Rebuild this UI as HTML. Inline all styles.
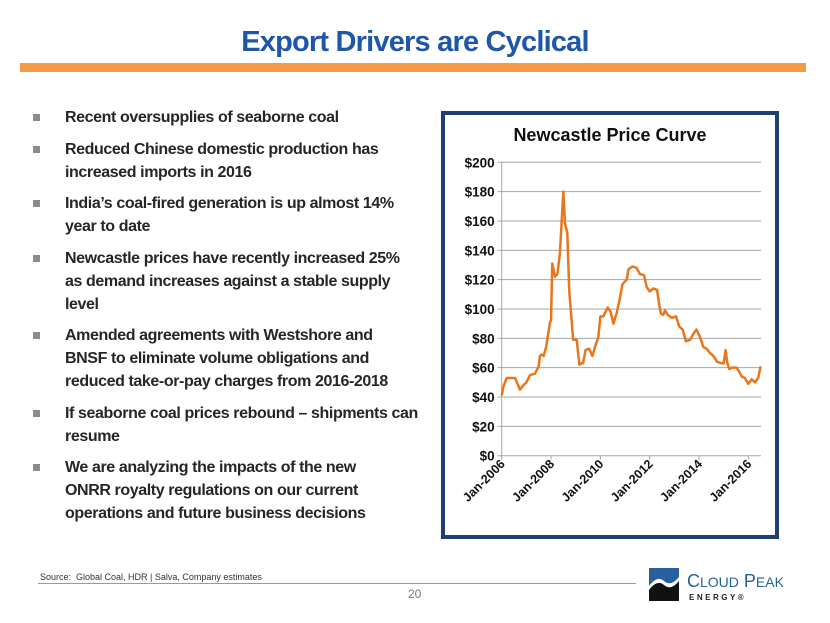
<!DOCTYPE html>
<html><head><meta charset="utf-8"><style>
body{margin:0;width:830px;height:623px;background:#fff;overflow:hidden;position:relative;font-family:"Liberation Sans",sans-serif}
#title{position:absolute;left:0;width:830px;top:26px;text-align:center;font-size:29px;font-weight:bold;color:#1f56a8;letter-spacing:-0.8px}
#bar{position:absolute;left:20px;top:63px;width:786px;height:9px;background:#f59a45}
ul{position:absolute;left:30px;top:106px;margin:0;padding:0;list-style:none;width:400px}
li{position:relative;padding-left:35px;font-size:16px;font-weight:bold;color:#262626;line-height:23px;margin-bottom:8.5px;letter-spacing:-0.4px;width:355px}
li:before{content:"";position:absolute;left:3px;top:8px;width:7px;height:7px;background:#8c8c8c}
li.nw{white-space:nowrap}
#box{position:absolute;left:441px;top:111px;width:330px;height:420px;border:4px solid #1f3f73;background:#fff}
#src{position:absolute;left:40px;top:572px;font-size:9px;color:#333}
#line{position:absolute;left:38px;top:583px;width:598px;height:1px;background:#999}
#pg{position:absolute;left:408px;top:587px;font-size:12px;color:#777}
</style></head><body>
<div id="title">Export Drivers are Cyclical</div>
<div id="bar"></div>
<ul>
<li>Recent oversupplies of seaborne coal</li>
<li>Reduced Chinese domestic production has increased imports in 2016</li>
<li>India’s coal-fired generation is up almost 14% year to date</li>
<li>Newcastle prices have recently increased 25% as demand increases against a stable supply level</li>
<li class="nw">Amended agreements with Westshore and<br>BNSF to eliminate volume obligations and<br>reduced take-or-pay charges from 2016-2018</li>
<li>If seaborne coal prices rebound – shipments can resume</li>
<li class="nw">We are analyzing the impacts of the new<br>ONRR royalty regulations on our current<br>operations and future business decisions</li>
</ul>
<div id="box"></div>
<svg id="chart" width="830" height="623" style="position:absolute;left:0;top:0"></svg>
<div id="src">Source:&nbsp; Global Coal, HDR | Salva, Company estimates</div>
<div id="line"></div>
<div id="pg">20</div>
<svg width="180" height="40" style="position:absolute;left:645px;top:565px">
<rect x="4" y="3" width="30" height="18" fill="#2a5f9e"/><path d="M4 21 Q12 10 19 16 T34 12 V21Z" fill="#fff"/><path d="M4 25 Q12 14 19 20 T34 16 V36 H4Z" fill="#111"/>
<text x="42" y="22" font-family="Liberation Sans" font-size="18" fill="#2a5f9e">C<tspan font-size="14">LOUD</tspan> P<tspan font-size="14">EAK</tspan></text>
<text x="44" y="35" font-family="Liberation Sans" font-size="8" font-weight="bold" letter-spacing="2.5" fill="#222">ENERGY®</text>
</svg>
<script>
const yTicks=[0,20,40,60,80,100,120,140,160,180,200];
const xTickYears=[2006,2008,2010,2012,2014,2016];
const xTickLabels=["Jan-2006","Jan-2008","Jan-2010","Jan-2012","Jan-2014","Jan-2016"];
const dates=[2006.0,2006.07,2006.2,2006.4,2006.54,2006.74,2006.88,2007.0,2007.15,2007.35,2007.5,2007.55,2007.62,2007.7,2007.8,2007.96,2008.0,2008.05,2008.16,2008.26,2008.36,2008.5,2008.57,2008.66,2008.74,2008.9,2009.04,2009.15,2009.24,2009.3,2009.4,2009.54,2009.68,2009.78,2009.92,2010.0,2010.12,2010.3,2010.42,2010.53,2010.66,2010.8,2010.9,2011.07,2011.14,2011.3,2011.47,2011.6,2011.77,2011.88,2012.0,2012.15,2012.3,2012.37,2012.45,2012.55,2012.62,2012.73,2012.9,2013.07,2013.2,2013.34,2013.47,2013.64,2013.77,2013.9,2014.04,2014.18,2014.3,2014.45,2014.58,2014.74,2014.92,2015.0,2015.08,2015.15,2015.23,2015.32,2015.53,2015.64,2015.73,2015.86,2016.0,2016.14,2016.27,2016.4,2016.5];
const prices=[41,47,53,53,53,45,48,50,55,56,61,68,69,68,74,91,92,131,122,124,138,180,158,152,112,79,79,62,63,63,72,73,68,74,81,95,95,101,98,90,97,108,117,120,127,129,128,124,123,115,112,114,113,105,97,96,99,96,94,95,88,86,78,79,83,86,81,74,73,70,68,64,63,63,72,63,59,60,60,57,54,53,49,52,50,53,61];
const NS="http://www.w3.org/2000/svg";
const svg=document.getElementById('chart');
const L=501.7,R=761,T=162.3,B=455.7;
const xs=y=>L+(y-2006)*(748.3-L)/10;
const ys=v=>B-v*(B-T)/200;
function mk(t,a){const e=document.createElementNS(NS,t);for(const k in a)e.setAttribute(k,a[k]);svg.appendChild(e);return e;}
const tt=mk('text',{x:610,y:141,'text-anchor':'middle','font-size':18,'font-weight':'bold',fill:'#111','font-family':'Liberation Sans'});
tt.textContent='Newcastle Price Curve';


yTicks.forEach(v=>{
 const g=mk('line',{x1:L-4,x2:R,y1:ys(v),y2:ys(v),stroke:'#a6a6a6','stroke-width':1});
 
 
 const t=mk('text',{x:L-7,y:ys(v)+5,'text-anchor':'end','font-size':13.5,'font-weight':'bold',fill:'#111','font-family':'Liberation Sans'});
 t.textContent='$'+v;
 
 
});
const ax=mk('line',{x1:L,x2:L,y1:T,y2:B,stroke:'#a6a6a6'});


xTickYears.forEach((yr,i)=>{
 const x=xs(yr);
 const tk=mk('line',{x1:x,x2:x,y1:B,y2:B+4,stroke:'#a6a6a6'});
 
 
 const t=mk('text',{x:x+4,y:B+9,'text-anchor':'end','font-size':12.5,'font-weight':'bold',fill:'#111','font-family':'Liberation Sans',transform:`rotate(-45 ${x+4} ${B+9})`});
 t.textContent=xTickLabels[i];
 
 
});
const p=mk('polyline',{points:dates.map((d,i)=>xs(d)+','+ys(prices[i])).join(' '),fill:'none',stroke:'#e8761c','stroke-width':2.5,'stroke-linejoin':'round'});


</script>
</body></html>
